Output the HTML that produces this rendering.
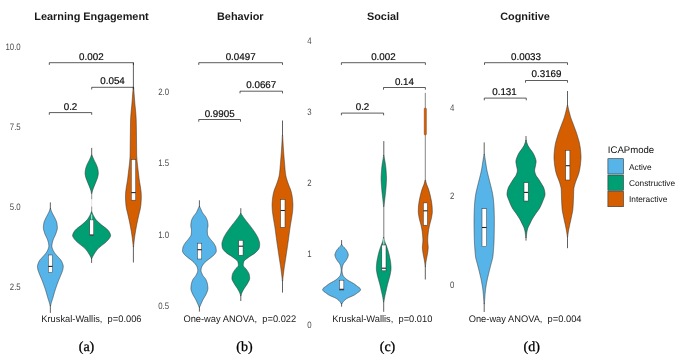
<!DOCTYPE html>
<html><head><meta charset="utf-8"><title>ICAP violin plots</title>
<style>
html,body{margin:0;padding:0;background:#ffffff;}
body{width:685px;height:359px;overflow:hidden;font-family:"Liberation Sans",sans-serif;}
svg{display:block;will-change:transform}
svg text{text-rendering:geometricPrecision}
</style></head><body>
<svg width="685" height="359" viewBox="0 0 685 359">
<rect x="0" y="0" width="685" height="359" fill="#ffffff"/>
<text x="91.5" y="20" font-size="10.9" text-anchor="middle" fill="#1a1a1a" font-weight="bold" style="font-family:&quot;Liberation Sans&quot;,sans-serif" xml:space="preserve">Learning Engagement</text>
<text x="240.3" y="20" font-size="10.9" text-anchor="middle" fill="#1a1a1a" font-weight="bold" style="font-family:&quot;Liberation Sans&quot;,sans-serif" xml:space="preserve">Behavior</text>
<text x="383" y="20" font-size="10.9" text-anchor="middle" fill="#1a1a1a" font-weight="bold" style="font-family:&quot;Liberation Sans&quot;,sans-serif" xml:space="preserve">Social</text>
<text x="525" y="20" font-size="10.9" text-anchor="middle" fill="#1a1a1a" font-weight="bold" style="font-family:&quot;Liberation Sans&quot;,sans-serif" xml:space="preserve">Cognitive</text>
<text transform="translate(20.7,49.7) scale(0.84,1)" x="0" y="0" font-size="9.3" text-anchor="end" fill="#4d4d4d" style="font-family:&quot;Liberation Sans&quot;,sans-serif">10.0</text>
<text transform="translate(20.7,129.6) scale(0.84,1)" x="0" y="0" font-size="9.3" text-anchor="end" fill="#4d4d4d" style="font-family:&quot;Liberation Sans&quot;,sans-serif">7.5</text>
<text transform="translate(20.7,209.5) scale(0.84,1)" x="0" y="0" font-size="9.3" text-anchor="end" fill="#4d4d4d" style="font-family:&quot;Liberation Sans&quot;,sans-serif">5.0</text>
<text transform="translate(20.7,289.5) scale(0.84,1)" x="0" y="0" font-size="9.3" text-anchor="end" fill="#4d4d4d" style="font-family:&quot;Liberation Sans&quot;,sans-serif">2.5</text>
<text transform="translate(169.1,95.2) scale(0.84,1)" x="0" y="0" font-size="9.3" text-anchor="end" fill="#4d4d4d" style="font-family:&quot;Liberation Sans&quot;,sans-serif">2.0</text>
<text transform="translate(169.1,166.4) scale(0.84,1)" x="0" y="0" font-size="9.3" text-anchor="end" fill="#4d4d4d" style="font-family:&quot;Liberation Sans&quot;,sans-serif">1.5</text>
<text transform="translate(169.1,237.7) scale(0.84,1)" x="0" y="0" font-size="9.3" text-anchor="end" fill="#4d4d4d" style="font-family:&quot;Liberation Sans&quot;,sans-serif">1.0</text>
<text transform="translate(169.1,308.9) scale(0.84,1)" x="0" y="0" font-size="9.3" text-anchor="end" fill="#4d4d4d" style="font-family:&quot;Liberation Sans&quot;,sans-serif">0.5</text>
<text transform="translate(311.6,43.5) scale(0.84,1)" x="0" y="0" font-size="9.3" text-anchor="end" fill="#4d4d4d" style="font-family:&quot;Liberation Sans&quot;,sans-serif">4</text>
<text transform="translate(311.6,114.6) scale(0.84,1)" x="0" y="0" font-size="9.3" text-anchor="end" fill="#4d4d4d" style="font-family:&quot;Liberation Sans&quot;,sans-serif">3</text>
<text transform="translate(311.6,185.8) scale(0.84,1)" x="0" y="0" font-size="9.3" text-anchor="end" fill="#4d4d4d" style="font-family:&quot;Liberation Sans&quot;,sans-serif">2</text>
<text transform="translate(311.6,256.9) scale(0.84,1)" x="0" y="0" font-size="9.3" text-anchor="end" fill="#4d4d4d" style="font-family:&quot;Liberation Sans&quot;,sans-serif">1</text>
<text transform="translate(311.6,328) scale(0.84,1)" x="0" y="0" font-size="9.3" text-anchor="end" fill="#4d4d4d" style="font-family:&quot;Liberation Sans&quot;,sans-serif">0</text>
<text transform="translate(454.3,110.8) scale(0.84,1)" x="0" y="0" font-size="9.3" text-anchor="end" fill="#4d4d4d" style="font-family:&quot;Liberation Sans&quot;,sans-serif">4</text>
<text transform="translate(454.3,199.3) scale(0.84,1)" x="0" y="0" font-size="9.3" text-anchor="end" fill="#4d4d4d" style="font-family:&quot;Liberation Sans&quot;,sans-serif">2</text>
<text transform="translate(454.3,287.8) scale(0.84,1)" x="0" y="0" font-size="9.3" text-anchor="end" fill="#4d4d4d" style="font-family:&quot;Liberation Sans&quot;,sans-serif">0</text>
<path d="M50.55,208.50 L50.84,209.50 L51.17,210.50 L51.55,211.50 L51.97,212.50 L52.47,213.50 L53.01,214.50 L53.55,215.50 L54.08,216.50 L54.61,217.50 L55.12,218.50 L55.58,219.50 L56.04,220.50 L56.44,221.50 L56.73,222.50 L56.91,223.50 L57.07,224.50 L57.21,225.50 L57.30,226.50 L57.35,227.50 L57.31,228.50 L57.15,229.50 L56.89,230.50 L56.57,231.50 L56.24,232.50 L55.92,233.50 L55.53,234.50 L55.09,235.50 L54.61,236.50 L54.12,237.50 L53.66,238.50 L53.26,239.50 L52.92,240.50 L52.62,241.50 L52.35,242.50 L52.15,243.50 L52.00,244.50 L51.88,245.50 L51.86,246.50 L52.06,247.50 L52.38,248.50 L52.73,249.50 L53.18,250.50 L53.71,251.50 L54.31,252.50 L55.02,253.50 L55.85,254.50 L56.75,255.50 L57.67,256.50 L58.56,257.50 L59.47,258.50 L60.40,259.50 L61.15,260.50 L61.71,261.50 L62.18,262.50 L62.55,263.50 L62.88,264.50 L63.15,265.50 L63.25,266.50 L63.18,267.50 L63.03,268.50 L62.85,269.50 L62.59,270.50 L62.23,271.50 L61.85,272.50 L61.48,273.50 L61.08,274.50 L60.66,275.50 L60.24,276.50 L59.81,277.50 L59.38,278.50 L58.97,279.50 L58.56,280.50 L58.17,281.50 L57.80,282.50 L57.43,283.50 L57.07,284.50 L56.71,285.50 L56.36,286.50 L56.01,287.50 L55.67,288.50 L55.34,289.50 L55.02,290.50 L54.71,291.50 L54.41,292.50 L54.12,293.50 L53.83,294.50 L53.55,295.50 L53.26,296.50 L52.97,297.50 L52.67,298.50 L52.36,299.50 L52.03,300.50 L51.70,301.50 L51.39,302.50 L51.12,303.50 L50.87,304.50 L50.64,305.50 L50.55,305.90 L50.15,305.90 L50.06,305.50 L49.83,304.50 L49.58,303.50 L49.31,302.50 L49.00,301.50 L48.67,300.50 L48.34,299.50 L48.03,298.50 L47.73,297.50 L47.44,296.50 L47.15,295.50 L46.87,294.50 L46.58,293.50 L46.29,292.50 L45.99,291.50 L45.68,290.50 L45.36,289.50 L45.03,288.50 L44.69,287.50 L44.34,286.50 L43.99,285.50 L43.63,284.50 L43.27,283.50 L42.90,282.50 L42.53,281.50 L42.14,280.50 L41.73,279.50 L41.32,278.50 L40.89,277.50 L40.46,276.50 L40.04,275.50 L39.62,274.50 L39.22,273.50 L38.85,272.50 L38.47,271.50 L38.11,270.50 L37.85,269.50 L37.67,268.50 L37.52,267.50 L37.45,266.50 L37.55,265.50 L37.82,264.50 L38.15,263.50 L38.52,262.50 L38.99,261.50 L39.55,260.50 L40.30,259.50 L41.23,258.50 L42.14,257.50 L43.03,256.50 L43.95,255.50 L44.85,254.50 L45.68,253.50 L46.39,252.50 L46.99,251.50 L47.52,250.50 L47.97,249.50 L48.32,248.50 L48.64,247.50 L48.84,246.50 L48.82,245.50 L48.70,244.50 L48.55,243.50 L48.35,242.50 L48.08,241.50 L47.78,240.50 L47.44,239.50 L47.04,238.50 L46.58,237.50 L46.09,236.50 L45.61,235.50 L45.17,234.50 L44.78,233.50 L44.46,232.50 L44.13,231.50 L43.81,230.50 L43.55,229.50 L43.39,228.50 L43.35,227.50 L43.40,226.50 L43.49,225.50 L43.63,224.50 L43.79,223.50 L43.97,222.50 L44.26,221.50 L44.66,220.50 L45.12,219.50 L45.58,218.50 L46.09,217.50 L46.62,216.50 L47.15,215.50 L47.69,214.50 L48.23,213.50 L48.73,212.50 L49.15,211.50 L49.53,210.50 L49.86,209.50 L50.15,208.50Z" fill="#56B4E9" stroke="#333333" stroke-width="0.55" stroke-linejoin="round"/>
<line x1="50.35" y1="202.4" x2="50.35" y2="209.0" stroke="#2b2b2b" stroke-width="0.75"/>
<line x1="50.35" y1="305.4" x2="50.35" y2="312.9" stroke="#2b2b2b" stroke-width="0.75"/>
<rect x="48.30" y="255" width="4.2" height="17.50" fill="#ffffff" stroke="#333333" stroke-width="0.5"/>
<line x1="48.30" y1="266.4" x2="52.50" y2="266.4" stroke="#222" stroke-width="1.1"/>
<path d="M91.90,154.90 L92.29,155.90 L92.69,156.90 L93.10,157.90 L93.53,158.90 L93.97,159.90 L94.46,160.90 L94.97,161.90 L95.49,162.90 L95.99,163.90 L96.45,164.90 L96.86,165.90 L97.20,166.90 L97.52,167.90 L97.79,168.90 L97.99,169.90 L98.12,170.90 L98.23,171.90 L98.29,172.90 L98.28,173.90 L98.15,174.90 L97.95,175.90 L97.72,176.90 L97.45,177.90 L97.09,178.90 L96.69,179.90 L96.31,180.90 L95.92,181.90 L95.52,182.90 L95.10,183.90 L94.69,184.90 L94.29,185.90 L93.89,186.90 L93.51,187.90 L93.10,188.90 L92.73,189.90 L92.42,190.90 L92.20,191.90 L92.03,192.90 L91.95,193.50 L91.45,193.50 L91.37,192.90 L91.20,191.90 L90.98,190.90 L90.67,189.90 L90.30,188.90 L89.89,187.90 L89.51,186.90 L89.11,185.90 L88.71,184.90 L88.30,183.90 L87.88,182.90 L87.48,181.90 L87.09,180.90 L86.71,179.90 L86.31,178.90 L85.95,177.90 L85.68,176.90 L85.45,175.90 L85.25,174.90 L85.12,173.90 L85.11,172.90 L85.17,171.90 L85.28,170.90 L85.41,169.90 L85.61,168.90 L85.88,167.90 L86.20,166.90 L86.54,165.90 L86.95,164.90 L87.41,163.90 L87.91,162.90 L88.43,161.90 L88.94,160.90 L89.43,159.90 L89.87,158.90 L90.30,157.90 L90.71,156.90 L91.11,155.90 L91.50,154.90Z" fill="#009E73" stroke="#333333" stroke-width="0.55" stroke-linejoin="round"/>
<line x1="91.7" y1="147.9" x2="91.7" y2="155.4" stroke="#2b2b2b" stroke-width="0.75"/>
<line x1="91.7" y1="193.2" x2="91.7" y2="199.3" stroke="#444" stroke-width="0.6"/>
<line x1="91.7" y1="199.3" x2="91.7" y2="206.5" stroke="#dcdcdc" stroke-width="0.8"/>
<line x1="91.7" y1="206.5" x2="91.7" y2="212.2" stroke="#444" stroke-width="0.6"/>
<path d="M91.85,211.80 L92.15,212.80 L92.52,213.80 L92.97,214.80 L93.51,215.80 L94.07,216.80 L94.62,217.80 L95.26,218.80 L96.04,219.80 L96.97,220.80 L98.00,221.80 L99.11,222.80 L100.24,223.80 L101.39,224.80 L102.67,225.80 L104.03,226.80 L105.36,227.80 L106.58,228.80 L107.58,229.80 L108.47,230.80 L109.22,231.80 L109.73,232.80 L110.17,233.80 L110.49,234.80 L110.60,235.80 L110.29,236.80 L109.67,237.80 L109.00,238.80 L108.18,239.80 L107.22,240.80 L106.20,241.80 L105.12,242.80 L103.90,243.80 L102.61,244.80 L101.31,245.80 L100.05,246.80 L98.89,247.80 L97.89,248.80 L97.04,249.80 L96.27,250.80 L95.56,251.80 L94.90,252.80 L94.28,253.80 L93.69,254.80 L93.13,255.80 L92.60,256.80 L92.12,257.80 L91.80,258.50 L91.40,258.50 L91.08,257.80 L90.60,256.80 L90.07,255.80 L89.51,254.80 L88.92,253.80 L88.30,252.80 L87.64,251.80 L86.93,250.80 L86.16,249.80 L85.31,248.80 L84.31,247.80 L83.15,246.80 L81.89,245.80 L80.59,244.80 L79.30,243.80 L78.08,242.80 L77.00,241.80 L75.98,240.80 L75.02,239.80 L74.20,238.80 L73.53,237.80 L72.91,236.80 L72.60,235.80 L72.71,234.80 L73.03,233.80 L73.47,232.80 L73.98,231.80 L74.73,230.80 L75.62,229.80 L76.62,228.80 L77.84,227.80 L79.17,226.80 L80.53,225.80 L81.81,224.80 L82.96,223.80 L84.09,222.80 L85.20,221.80 L86.23,220.80 L87.16,219.80 L87.94,218.80 L88.58,217.80 L89.13,216.80 L89.69,215.80 L90.23,214.80 L90.68,213.80 L91.05,212.80 L91.35,211.80Z" fill="#009E73" stroke="#333333" stroke-width="0.55" stroke-linejoin="round"/>
<line x1="91.6" y1="258.0" x2="91.6" y2="262.9" stroke="#2b2b2b" stroke-width="0.75"/>
<line x1="91.7" y1="214.5" x2="91.7" y2="220" stroke="#ffffff" stroke-width="0.8"/>
<rect x="89.75" y="219.9" width="4.0" height="15.80" fill="#ffffff" stroke="#333333" stroke-width="0.5"/>
<line x1="89.75" y1="235.0" x2="93.75" y2="235.0" stroke="#222" stroke-width="1.1"/>
<path d="M133.60,87.20 L133.68,88.20 L133.75,89.20 L133.83,90.20 L133.91,91.20 L133.98,92.20 L134.06,93.20 L134.14,94.20 L134.22,95.20 L134.29,96.20 L134.37,97.20 L134.44,98.20 L134.52,99.20 L134.60,100.20 L134.68,101.20 L134.76,102.20 L134.84,103.20 L134.93,104.20 L135.02,105.20 L135.12,106.20 L135.23,107.20 L135.34,108.20 L135.44,109.20 L135.54,110.20 L135.63,111.20 L135.72,112.20 L135.79,113.20 L135.87,114.20 L135.94,115.20 L136.01,116.20 L136.07,117.20 L136.13,118.20 L136.17,119.20 L136.21,120.20 L136.23,121.20 L136.26,122.20 L136.28,123.20 L136.30,124.20 L136.32,125.20 L136.34,126.20 L136.36,127.20 L136.37,128.20 L136.39,129.20 L136.40,130.20 L136.42,131.20 L136.43,132.20 L136.44,133.20 L136.46,134.20 L136.47,135.20 L136.48,136.20 L136.50,137.20 L136.51,138.20 L136.52,139.20 L136.53,140.20 L136.54,141.20 L136.55,142.20 L136.56,143.20 L136.57,144.20 L136.57,145.20 L136.58,146.20 L136.59,147.20 L136.60,148.20 L136.61,149.20 L136.62,150.20 L136.63,151.20 L136.65,152.20 L136.66,153.20 L136.68,154.20 L136.70,155.20 L136.74,156.20 L136.80,157.20 L136.87,158.20 L136.94,159.20 L137.02,160.20 L137.10,161.20 L137.19,162.20 L137.29,163.20 L137.40,164.20 L137.51,165.20 L137.62,166.20 L137.74,167.20 L137.86,168.20 L137.98,169.20 L138.10,170.20 L138.23,171.20 L138.35,172.20 L138.47,173.20 L138.59,174.20 L138.71,175.20 L138.82,176.20 L138.94,177.20 L139.06,178.20 L139.19,179.20 L139.33,180.20 L139.48,181.20 L139.64,182.20 L139.81,183.20 L139.98,184.20 L140.15,185.20 L140.32,186.20 L140.48,187.20 L140.62,188.20 L140.75,189.20 L140.88,190.20 L141.01,191.20 L141.11,192.20 L141.19,193.20 L141.23,194.20 L141.26,195.20 L141.29,196.20 L141.30,197.20 L141.29,198.20 L141.26,199.20 L141.21,200.20 L141.15,201.20 L141.09,202.20 L141.02,203.20 L140.93,204.20 L140.83,205.20 L140.71,206.20 L140.57,207.20 L140.39,208.20 L140.19,209.20 L139.96,210.20 L139.72,211.20 L139.47,212.20 L139.22,213.20 L138.98,214.20 L138.76,215.20 L138.54,216.20 L138.32,217.20 L138.09,218.20 L137.87,219.20 L137.65,220.20 L137.44,221.20 L137.23,222.20 L137.02,223.20 L136.82,224.20 L136.63,225.20 L136.43,226.20 L136.24,227.20 L136.06,228.20 L135.88,229.20 L135.70,230.20 L135.53,231.20 L135.36,232.20 L135.20,233.20 L135.05,234.20 L134.90,235.20 L134.75,236.20 L134.61,237.20 L134.47,238.20 L134.35,239.20 L134.23,240.20 L134.12,241.20 L134.01,242.20 L133.90,243.20 L133.80,244.20 L133.71,245.20 L133.62,246.20 L133.60,246.50 L133.20,246.50 L133.18,246.20 L133.09,245.20 L133.00,244.20 L132.90,243.20 L132.79,242.20 L132.68,241.20 L132.57,240.20 L132.45,239.20 L132.33,238.20 L132.19,237.20 L132.05,236.20 L131.90,235.20 L131.75,234.20 L131.60,233.20 L131.44,232.20 L131.27,231.20 L131.10,230.20 L130.92,229.20 L130.74,228.20 L130.56,227.20 L130.37,226.20 L130.17,225.20 L129.98,224.20 L129.78,223.20 L129.57,222.20 L129.36,221.20 L129.15,220.20 L128.93,219.20 L128.71,218.20 L128.48,217.20 L128.26,216.20 L128.04,215.20 L127.82,214.20 L127.58,213.20 L127.33,212.20 L127.08,211.20 L126.84,210.20 L126.61,209.20 L126.41,208.20 L126.23,207.20 L126.09,206.20 L125.97,205.20 L125.87,204.20 L125.78,203.20 L125.71,202.20 L125.65,201.20 L125.59,200.20 L125.54,199.20 L125.51,198.20 L125.50,197.20 L125.51,196.20 L125.54,195.20 L125.57,194.20 L125.61,193.20 L125.69,192.20 L125.79,191.20 L125.92,190.20 L126.05,189.20 L126.18,188.20 L126.32,187.20 L126.48,186.20 L126.65,185.20 L126.82,184.20 L126.99,183.20 L127.16,182.20 L127.32,181.20 L127.47,180.20 L127.61,179.20 L127.74,178.20 L127.86,177.20 L127.98,176.20 L128.09,175.20 L128.21,174.20 L128.33,173.20 L128.45,172.20 L128.57,171.20 L128.70,170.20 L128.82,169.20 L128.94,168.20 L129.06,167.20 L129.18,166.20 L129.29,165.20 L129.40,164.20 L129.51,163.20 L129.61,162.20 L129.70,161.20 L129.78,160.20 L129.86,159.20 L129.93,158.20 L130.00,157.20 L130.06,156.20 L130.10,155.20 L130.12,154.20 L130.14,153.20 L130.15,152.20 L130.17,151.20 L130.18,150.20 L130.19,149.20 L130.20,148.20 L130.21,147.20 L130.22,146.20 L130.23,145.20 L130.23,144.20 L130.24,143.20 L130.25,142.20 L130.26,141.20 L130.27,140.20 L130.28,139.20 L130.29,138.20 L130.30,137.20 L130.32,136.20 L130.33,135.20 L130.34,134.20 L130.36,133.20 L130.37,132.20 L130.38,131.20 L130.40,130.20 L130.41,129.20 L130.43,128.20 L130.44,127.20 L130.46,126.20 L130.48,125.20 L130.50,124.20 L130.52,123.20 L130.54,122.20 L130.57,121.20 L130.59,120.20 L130.63,119.20 L130.67,118.20 L130.73,117.20 L130.79,116.20 L130.86,115.20 L130.93,114.20 L131.01,113.20 L131.08,112.20 L131.17,111.20 L131.26,110.20 L131.36,109.20 L131.46,108.20 L131.57,107.20 L131.68,106.20 L131.78,105.20 L131.87,104.20 L131.96,103.20 L132.04,102.20 L132.12,101.20 L132.20,100.20 L132.28,99.20 L132.36,98.20 L132.43,97.20 L132.51,96.20 L132.58,95.20 L132.66,94.20 L132.74,93.20 L132.82,92.20 L132.89,91.20 L132.97,90.20 L133.05,89.20 L133.12,88.20 L133.20,87.20Z" fill="#D55E00" stroke="#333333" stroke-width="0.55" stroke-linejoin="round"/>
<line x1="133.4" y1="62.6" x2="133.4" y2="87.7" stroke="#2b2b2b" stroke-width="0.75"/>
<line x1="133.4" y1="246.0" x2="133.4" y2="262.5" stroke="#2b2b2b" stroke-width="0.75"/>
<rect x="131.25" y="159.5" width="4.5" height="40.70" fill="#ffffff" stroke="#333333" stroke-width="0.5"/>
<line x1="131.25" y1="192.6" x2="135.75" y2="192.6" stroke="#222" stroke-width="1.1"/>
<path d="M49.3,64.9 V62.7 H133.4 V64.9" fill="none" stroke="#151515" stroke-width="0.7"/><text x="91.35" y="59.7" font-size="9.8" text-anchor="middle" fill="#0a0a0a" stroke="#0a0a0a" stroke-width="0.18" font-weight="normal" style="font-family:&quot;Liberation Sans&quot;,sans-serif" xml:space="preserve">0.002</text>
<path d="M91.7,89.5 V87.3 H133.4 V89.5" fill="none" stroke="#151515" stroke-width="0.7"/><text x="112.55000000000001" y="84.3" font-size="9.8" text-anchor="middle" fill="#0a0a0a" stroke="#0a0a0a" stroke-width="0.18" font-weight="normal" style="font-family:&quot;Liberation Sans&quot;,sans-serif" xml:space="preserve">0.054</text>
<path d="M49.3,114.8 V112.6 H91.7 V114.8" fill="none" stroke="#151515" stroke-width="0.7"/><text x="70.5" y="109.6" font-size="9.8" text-anchor="middle" fill="#0a0a0a" stroke="#0a0a0a" stroke-width="0.18" font-weight="normal" style="font-family:&quot;Liberation Sans&quot;,sans-serif" xml:space="preserve">0.2</text>
<text transform="translate(91.4,321.6) scale(0.974,1)" x="0" y="0" font-size="9.55" text-anchor="middle" fill="#1a1a1a" font-weight="normal" style="font-family:&quot;Liberation Sans&quot;,sans-serif" xml:space="preserve">Kruskal-Wallis,  p=0.006</text>
<text x="86.5" y="350.5" font-size="14" text-anchor="middle" fill="#000" stroke="#000" stroke-width="0.3" font-weight="normal" style="font-family:&quot;Liberation Serif&quot;,serif" xml:space="preserve">(a)</text>
<path d="M199.60,206.40 L200.06,207.40 L200.52,208.40 L200.98,209.40 L201.41,210.40 L201.85,211.40 L202.34,212.40 L202.99,213.40 L203.78,214.40 L204.60,215.40 L205.34,216.40 L205.91,217.40 L206.43,218.40 L206.90,219.40 L207.27,220.40 L207.52,221.40 L207.69,222.40 L207.84,223.40 L207.94,224.40 L208.00,225.40 L207.95,226.40 L207.76,227.40 L207.52,228.40 L207.34,229.40 L207.30,230.40 L207.33,231.40 L207.39,232.40 L207.48,233.40 L207.59,234.40 L207.85,235.40 L208.39,236.40 L209.09,237.40 L209.84,238.40 L210.57,239.40 L211.41,240.40 L212.30,241.40 L213.14,242.40 L213.82,243.40 L214.45,244.40 L215.04,245.40 L215.53,246.40 L215.86,247.40 L216.04,248.40 L216.19,249.40 L216.28,250.40 L216.26,251.40 L215.86,252.40 L215.22,253.40 L214.49,254.40 L213.48,255.40 L212.28,256.40 L211.08,257.40 L209.83,258.40 L208.48,259.40 L207.14,260.40 L205.90,261.40 L204.89,262.40 L204.04,263.40 L203.24,264.40 L202.52,265.40 L201.93,266.40 L201.51,267.40 L201.26,268.40 L201.08,269.40 L201.00,270.40 L201.12,271.40 L201.42,272.40 L201.85,273.40 L202.31,274.40 L202.82,275.40 L203.53,276.40 L204.35,277.40 L205.17,278.40 L205.85,279.40 L206.31,280.40 L206.69,281.40 L207.02,282.40 L207.30,283.40 L207.51,284.40 L207.65,285.40 L207.77,286.40 L207.86,287.40 L207.90,288.40 L207.82,289.40 L207.59,290.40 L207.25,291.40 L206.84,292.40 L206.40,293.40 L205.98,294.40 L205.46,295.40 L204.88,296.40 L204.26,297.40 L203.65,298.40 L203.10,299.40 L202.60,300.40 L202.13,301.40 L201.67,302.40 L201.22,303.40 L200.79,304.40 L200.36,305.40 L199.95,306.40 L199.60,307.30 L199.20,307.30 L198.85,306.40 L198.44,305.40 L198.01,304.40 L197.58,303.40 L197.13,302.40 L196.67,301.40 L196.20,300.40 L195.70,299.40 L195.15,298.40 L194.54,297.40 L193.92,296.40 L193.34,295.40 L192.82,294.40 L192.40,293.40 L191.96,292.40 L191.55,291.40 L191.21,290.40 L190.98,289.40 L190.90,288.40 L190.94,287.40 L191.03,286.40 L191.15,285.40 L191.29,284.40 L191.50,283.40 L191.78,282.40 L192.11,281.40 L192.49,280.40 L192.95,279.40 L193.63,278.40 L194.45,277.40 L195.27,276.40 L195.98,275.40 L196.49,274.40 L196.95,273.40 L197.38,272.40 L197.68,271.40 L197.80,270.40 L197.72,269.40 L197.54,268.40 L197.29,267.40 L196.87,266.40 L196.28,265.40 L195.56,264.40 L194.76,263.40 L193.91,262.40 L192.90,261.40 L191.66,260.40 L190.32,259.40 L188.97,258.40 L187.72,257.40 L186.52,256.40 L185.32,255.40 L184.31,254.40 L183.58,253.40 L182.94,252.40 L182.54,251.40 L182.52,250.40 L182.61,249.40 L182.76,248.40 L182.94,247.40 L183.27,246.40 L183.76,245.40 L184.35,244.40 L184.98,243.40 L185.66,242.40 L186.50,241.40 L187.39,240.40 L188.23,239.40 L188.96,238.40 L189.71,237.40 L190.41,236.40 L190.95,235.40 L191.21,234.40 L191.32,233.40 L191.41,232.40 L191.47,231.40 L191.50,230.40 L191.46,229.40 L191.28,228.40 L191.04,227.40 L190.85,226.40 L190.80,225.40 L190.86,224.40 L190.96,223.40 L191.11,222.40 L191.28,221.40 L191.53,220.40 L191.90,219.40 L192.37,218.40 L192.89,217.40 L193.46,216.40 L194.20,215.40 L195.02,214.40 L195.81,213.40 L196.46,212.40 L196.95,211.40 L197.39,210.40 L197.82,209.40 L198.28,208.40 L198.74,207.40 L199.20,206.40Z" fill="#56B4E9" stroke="#333333" stroke-width="0.55" stroke-linejoin="round"/>
<line x1="199.4" y1="200.3" x2="199.4" y2="206.9" stroke="#2b2b2b" stroke-width="0.75"/>
<line x1="199.4" y1="306.8" x2="199.4" y2="311.6" stroke="#2b2b2b" stroke-width="0.75"/>
<rect x="197.45" y="243.2" width="4.3" height="15.80" fill="#ffffff" stroke="#333333" stroke-width="0.5"/>
<line x1="197.45" y1="249.7" x2="201.75" y2="249.7" stroke="#222" stroke-width="1.1"/>
<path d="M241.00,213.40 L241.60,214.40 L242.24,215.40 L242.89,216.40 L243.58,217.40 L244.30,218.40 L245.04,219.40 L245.81,220.40 L246.58,221.40 L247.36,222.40 L248.17,223.40 L248.98,224.40 L249.77,225.40 L250.54,226.40 L251.30,227.40 L252.04,228.40 L252.77,229.40 L253.48,230.40 L254.19,231.40 L254.88,232.40 L255.53,233.40 L256.14,234.40 L256.71,235.40 L257.27,236.40 L257.78,237.40 L258.22,238.40 L258.57,239.40 L258.93,240.40 L259.25,241.40 L259.51,242.40 L259.67,243.40 L259.69,244.40 L259.63,245.40 L259.50,246.40 L259.34,247.40 L259.04,248.40 L258.45,249.40 L257.64,250.40 L256.70,251.40 L255.70,252.40 L254.54,253.40 L253.06,254.40 L251.44,255.40 L249.86,256.40 L248.47,257.40 L247.11,258.40 L245.74,259.40 L244.59,260.40 L243.87,261.40 L243.59,262.40 L243.37,263.40 L243.24,264.40 L243.22,265.40 L243.68,266.40 L244.56,267.40 L245.58,268.40 L246.43,269.40 L247.08,270.40 L247.74,271.40 L248.34,272.40 L248.85,273.40 L249.21,274.40 L249.41,275.40 L249.56,276.40 L249.67,277.40 L249.70,278.40 L249.54,279.40 L249.17,280.40 L248.65,281.40 L248.08,282.40 L247.51,283.40 L246.94,284.40 L246.29,285.40 L245.60,286.40 L244.90,287.40 L244.24,288.40 L243.65,289.40 L243.06,290.40 L242.51,291.40 L242.04,292.40 L241.66,293.40 L241.35,294.40 L241.10,295.40 L241.00,295.90 L240.60,295.90 L240.50,295.40 L240.25,294.40 L239.94,293.40 L239.56,292.40 L239.09,291.40 L238.54,290.40 L237.95,289.40 L237.36,288.40 L236.70,287.40 L236.00,286.40 L235.31,285.40 L234.66,284.40 L234.09,283.40 L233.52,282.40 L232.95,281.40 L232.43,280.40 L232.06,279.40 L231.90,278.40 L231.93,277.40 L232.04,276.40 L232.19,275.40 L232.39,274.40 L232.75,273.40 L233.26,272.40 L233.86,271.40 L234.52,270.40 L235.17,269.40 L236.02,268.40 L237.04,267.40 L237.92,266.40 L238.38,265.40 L238.36,264.40 L238.23,263.40 L238.01,262.40 L237.73,261.40 L237.01,260.40 L235.86,259.40 L234.49,258.40 L233.13,257.40 L231.74,256.40 L230.16,255.40 L228.54,254.40 L227.06,253.40 L225.90,252.40 L224.90,251.40 L223.96,250.40 L223.15,249.40 L222.56,248.40 L222.26,247.40 L222.10,246.40 L221.97,245.40 L221.91,244.40 L221.93,243.40 L222.09,242.40 L222.35,241.40 L222.67,240.40 L223.03,239.40 L223.38,238.40 L223.82,237.40 L224.33,236.40 L224.89,235.40 L225.46,234.40 L226.07,233.40 L226.72,232.40 L227.41,231.40 L228.12,230.40 L228.83,229.40 L229.56,228.40 L230.30,227.40 L231.06,226.40 L231.83,225.40 L232.62,224.40 L233.43,223.40 L234.24,222.40 L235.02,221.40 L235.79,220.40 L236.56,219.40 L237.30,218.40 L238.02,217.40 L238.71,216.40 L239.36,215.40 L240.00,214.40 L240.60,213.40Z" fill="#009E73" stroke="#333333" stroke-width="0.55" stroke-linejoin="round"/>
<line x1="240.8" y1="208.2" x2="240.8" y2="213.9" stroke="#2b2b2b" stroke-width="0.75"/>
<line x1="240.8" y1="295.4" x2="240.8" y2="301" stroke="#2b2b2b" stroke-width="0.75"/>
<rect x="238.75" y="240.3" width="4.3" height="14.90" fill="#ffffff" stroke="#333333" stroke-width="0.5"/>
<line x1="238.75" y1="246.2" x2="243.05" y2="246.2" stroke="#222" stroke-width="1.1"/>
<path d="M282.70,135.60 L282.74,136.60 L282.79,137.60 L282.84,138.60 L282.89,139.60 L282.94,140.60 L282.99,141.60 L283.05,142.60 L283.11,143.60 L283.16,144.60 L283.22,145.60 L283.28,146.60 L283.35,147.60 L283.41,148.60 L283.47,149.60 L283.54,150.60 L283.61,151.60 L283.68,152.60 L283.76,153.60 L283.83,154.60 L283.91,155.60 L283.99,156.60 L284.08,157.60 L284.16,158.60 L284.24,159.60 L284.33,160.60 L284.41,161.60 L284.50,162.60 L284.58,163.60 L284.67,164.60 L284.75,165.60 L284.83,166.60 L284.90,167.60 L284.98,168.60 L285.07,169.60 L285.16,170.60 L285.26,171.60 L285.37,172.60 L285.50,173.60 L285.65,174.60 L285.82,175.60 L286.03,176.60 L286.27,177.60 L286.55,178.60 L286.86,179.60 L287.17,180.60 L287.49,181.60 L287.84,182.60 L288.20,183.60 L288.57,184.60 L288.95,185.60 L289.33,186.60 L289.74,187.60 L290.16,188.60 L290.54,189.60 L290.86,190.60 L291.14,191.60 L291.40,192.60 L291.64,193.60 L291.85,194.60 L292.03,195.60 L292.19,196.60 L292.34,197.60 L292.47,198.60 L292.58,199.60 L292.67,200.60 L292.74,201.60 L292.81,202.60 L292.87,203.60 L292.90,204.60 L292.90,205.60 L292.87,206.60 L292.83,207.60 L292.78,208.60 L292.72,209.60 L292.66,210.60 L292.56,211.60 L292.43,212.60 L292.30,213.60 L292.15,214.60 L292.02,215.60 L291.87,216.60 L291.72,217.60 L291.55,218.60 L291.39,219.60 L291.21,220.60 L291.04,221.60 L290.87,222.60 L290.70,223.60 L290.53,224.60 L290.36,225.60 L290.21,226.60 L290.06,227.60 L289.91,228.60 L289.77,229.60 L289.63,230.60 L289.50,231.60 L289.36,232.60 L289.23,233.60 L289.10,234.60 L288.97,235.60 L288.84,236.60 L288.70,237.60 L288.57,238.60 L288.44,239.60 L288.30,240.60 L288.16,241.60 L288.02,242.60 L287.87,243.60 L287.73,244.60 L287.58,245.60 L287.44,246.60 L287.29,247.60 L287.14,248.60 L287.00,249.60 L286.85,250.60 L286.70,251.60 L286.55,252.60 L286.40,253.60 L286.25,254.60 L286.10,255.60 L285.95,256.60 L285.80,257.60 L285.65,258.60 L285.49,259.60 L285.34,260.60 L285.18,261.60 L285.02,262.60 L284.86,263.60 L284.71,264.60 L284.55,265.60 L284.40,266.60 L284.26,267.60 L284.12,268.60 L283.98,269.60 L283.85,270.60 L283.72,271.60 L283.60,272.60 L283.47,273.60 L283.35,274.60 L283.23,275.60 L283.10,276.60 L282.99,277.60 L282.89,278.60 L282.81,279.60 L282.73,280.60 L282.70,281.00 L282.30,281.00 L282.27,280.60 L282.19,279.60 L282.11,278.60 L282.01,277.60 L281.90,276.60 L281.77,275.60 L281.65,274.60 L281.53,273.60 L281.40,272.60 L281.28,271.60 L281.15,270.60 L281.02,269.60 L280.88,268.60 L280.74,267.60 L280.60,266.60 L280.45,265.60 L280.29,264.60 L280.14,263.60 L279.98,262.60 L279.82,261.60 L279.66,260.60 L279.51,259.60 L279.35,258.60 L279.20,257.60 L279.05,256.60 L278.90,255.60 L278.75,254.60 L278.60,253.60 L278.45,252.60 L278.30,251.60 L278.15,250.60 L278.00,249.60 L277.86,248.60 L277.71,247.60 L277.56,246.60 L277.42,245.60 L277.27,244.60 L277.13,243.60 L276.98,242.60 L276.84,241.60 L276.70,240.60 L276.56,239.60 L276.43,238.60 L276.30,237.60 L276.16,236.60 L276.03,235.60 L275.90,234.60 L275.77,233.60 L275.64,232.60 L275.50,231.60 L275.37,230.60 L275.23,229.60 L275.09,228.60 L274.94,227.60 L274.79,226.60 L274.64,225.60 L274.47,224.60 L274.30,223.60 L274.13,222.60 L273.96,221.60 L273.79,220.60 L273.61,219.60 L273.45,218.60 L273.28,217.60 L273.13,216.60 L272.98,215.60 L272.85,214.60 L272.70,213.60 L272.57,212.60 L272.44,211.60 L272.34,210.60 L272.28,209.60 L272.22,208.60 L272.17,207.60 L272.13,206.60 L272.10,205.60 L272.10,204.60 L272.13,203.60 L272.19,202.60 L272.26,201.60 L272.33,200.60 L272.42,199.60 L272.53,198.60 L272.66,197.60 L272.81,196.60 L272.97,195.60 L273.15,194.60 L273.36,193.60 L273.60,192.60 L273.86,191.60 L274.14,190.60 L274.46,189.60 L274.84,188.60 L275.26,187.60 L275.67,186.60 L276.05,185.60 L276.43,184.60 L276.80,183.60 L277.16,182.60 L277.51,181.60 L277.83,180.60 L278.14,179.60 L278.45,178.60 L278.73,177.60 L278.97,176.60 L279.18,175.60 L279.35,174.60 L279.50,173.60 L279.63,172.60 L279.74,171.60 L279.84,170.60 L279.93,169.60 L280.02,168.60 L280.10,167.60 L280.17,166.60 L280.25,165.60 L280.33,164.60 L280.42,163.60 L280.50,162.60 L280.59,161.60 L280.67,160.60 L280.76,159.60 L280.84,158.60 L280.92,157.60 L281.01,156.60 L281.09,155.60 L281.17,154.60 L281.24,153.60 L281.32,152.60 L281.39,151.60 L281.46,150.60 L281.53,149.60 L281.59,148.60 L281.65,147.60 L281.72,146.60 L281.78,145.60 L281.84,144.60 L281.89,143.60 L281.95,142.60 L282.01,141.60 L282.06,140.60 L282.11,139.60 L282.16,138.60 L282.21,137.60 L282.26,136.60 L282.30,135.60Z" fill="#D55E00" stroke="#333333" stroke-width="0.55" stroke-linejoin="round"/>
<line x1="282.5" y1="120.5" x2="282.5" y2="136.1" stroke="#2b2b2b" stroke-width="0.75"/>
<line x1="282.5" y1="280.5" x2="282.5" y2="292.6" stroke="#2b2b2b" stroke-width="0.75"/>
<rect x="280.60" y="199.5" width="4.4" height="27.80" fill="#ffffff" stroke="#333333" stroke-width="0.5"/>
<line x1="280.60" y1="210.5" x2="285.00" y2="210.5" stroke="#222" stroke-width="1.1"/>
<path d="M198.75,64.9 V62.7 H282.5 V64.9" fill="none" stroke="#151515" stroke-width="0.7"/><text x="240.625" y="59.7" font-size="9.8" text-anchor="middle" fill="#0a0a0a" stroke="#0a0a0a" stroke-width="0.18" font-weight="normal" style="font-family:&quot;Liberation Sans&quot;,sans-serif" xml:space="preserve">0.0497</text>
<path d="M240,93.4 V91.2 H282.5 V93.4" fill="none" stroke="#151515" stroke-width="0.7"/><text x="261.25" y="88.2" font-size="9.8" text-anchor="middle" fill="#0a0a0a" stroke="#0a0a0a" stroke-width="0.18" font-weight="normal" style="font-family:&quot;Liberation Sans&quot;,sans-serif" xml:space="preserve">0.0667</text>
<path d="M198.75,121.7 V119.5 H240.5 V121.7" fill="none" stroke="#151515" stroke-width="0.7"/><text x="219.625" y="116.5" font-size="9.8" text-anchor="middle" fill="#0a0a0a" stroke="#0a0a0a" stroke-width="0.18" font-weight="normal" style="font-family:&quot;Liberation Sans&quot;,sans-serif" xml:space="preserve">0.9905</text>
<text transform="translate(239.8,321.6) scale(0.974,1)" x="0" y="0" font-size="9.55" text-anchor="middle" fill="#1a1a1a" font-weight="normal" style="font-family:&quot;Liberation Sans&quot;,sans-serif" xml:space="preserve">One-way ANOVA,  p=0.022</text>
<text x="244.5" y="350.5" font-size="14" text-anchor="middle" fill="#000" stroke="#000" stroke-width="0.3" font-weight="normal" style="font-family:&quot;Liberation Serif&quot;,serif" xml:space="preserve">(b)</text>
<path d="M341.80,244.50 L342.38,245.50 L343.10,246.50 L344.08,247.50 L345.15,248.50 L345.95,249.50 L346.62,250.50 L347.18,251.50 L347.61,252.50 L348.00,253.50 L348.26,254.50 L348.26,255.50 L348.00,256.50 L347.61,257.50 L347.17,258.50 L346.58,259.50 L345.91,260.50 L345.22,261.50 L344.42,262.50 L343.68,263.50 L343.17,264.50 L342.76,265.50 L342.46,266.50 L342.28,267.50 L342.14,268.50 L342.04,269.50 L342.00,270.50 L342.05,271.50 L342.19,272.50 L342.40,273.50 L342.66,274.50 L343.00,275.50 L343.65,276.50 L344.56,277.50 L345.64,278.50 L346.80,279.50 L348.22,280.50 L349.98,281.50 L351.86,282.50 L353.63,283.50 L355.09,284.50 L356.35,285.50 L357.60,286.50 L359.09,287.50 L360.13,288.50 L360.59,289.50 L360.26,290.50 L359.38,291.50 L357.88,292.50 L356.55,293.50 L355.18,294.50 L353.46,295.50 L351.13,296.50 L348.72,297.50 L346.80,298.50 L345.44,299.50 L344.31,300.50 L343.40,301.50 L342.66,302.50 L342.07,303.50 L341.85,304.00 L341.35,304.00 L341.13,303.50 L340.54,302.50 L339.80,301.50 L338.89,300.50 L337.76,299.50 L336.40,298.50 L334.48,297.50 L332.07,296.50 L329.74,295.50 L328.02,294.50 L326.65,293.50 L325.32,292.50 L323.82,291.50 L322.94,290.50 L322.61,289.50 L323.07,288.50 L324.11,287.50 L325.60,286.50 L326.85,285.50 L328.11,284.50 L329.57,283.50 L331.34,282.50 L333.22,281.50 L334.98,280.50 L336.40,279.50 L337.56,278.50 L338.64,277.50 L339.55,276.50 L340.20,275.50 L340.54,274.50 L340.80,273.50 L341.01,272.50 L341.15,271.50 L341.20,270.50 L341.16,269.50 L341.06,268.50 L340.92,267.50 L340.74,266.50 L340.44,265.50 L340.03,264.50 L339.52,263.50 L338.78,262.50 L337.98,261.50 L337.29,260.50 L336.62,259.50 L336.03,258.50 L335.59,257.50 L335.20,256.50 L334.94,255.50 L334.94,254.50 L335.20,253.50 L335.59,252.50 L336.02,251.50 L336.58,250.50 L337.25,249.50 L338.05,248.50 L339.12,247.50 L340.10,246.50 L340.82,245.50 L341.40,244.50Z" fill="#56B4E9" stroke="#333333" stroke-width="0.55" stroke-linejoin="round"/>
<line x1="341.6" y1="240.1" x2="341.6" y2="245.0" stroke="#2b2b2b" stroke-width="0.75"/>
<line x1="341.6" y1="303.5" x2="341.6" y2="306.7" stroke="#2b2b2b" stroke-width="0.75"/>
<rect x="339.55" y="280.2" width="4.3" height="9.80" fill="#ffffff" stroke="#333333" stroke-width="0.5"/>
<line x1="339.55" y1="289.3" x2="343.85" y2="289.3" stroke="#222" stroke-width="1.1"/>
<path d="M384.00,155.50 L384.15,156.50 L384.31,157.50 L384.47,158.50 L384.62,159.50 L384.78,160.50 L384.95,161.50 L385.12,162.50 L385.29,163.50 L385.45,164.50 L385.59,165.50 L385.71,166.50 L385.82,167.50 L385.92,168.50 L386.01,169.50 L386.09,170.50 L386.17,171.50 L386.23,172.50 L386.30,173.50 L386.36,174.50 L386.42,175.50 L386.46,176.50 L386.49,177.50 L386.50,178.50 L386.48,179.50 L386.45,180.50 L386.41,181.50 L386.35,182.50 L386.29,183.50 L386.23,184.50 L386.17,185.50 L386.10,186.50 L386.02,187.50 L385.93,188.50 L385.84,189.50 L385.75,190.50 L385.65,191.50 L385.55,192.50 L385.44,193.50 L385.33,194.50 L385.21,195.50 L385.09,196.50 L384.97,197.50 L384.85,198.50 L384.75,199.50 L384.64,200.50 L384.54,201.50 L384.43,202.50 L384.33,203.50 L384.23,204.50 L384.14,205.50 L384.05,206.40 L383.55,206.40 L383.46,205.50 L383.37,204.50 L383.27,203.50 L383.17,202.50 L383.06,201.50 L382.96,200.50 L382.85,199.50 L382.75,198.50 L382.63,197.50 L382.51,196.50 L382.39,195.50 L382.27,194.50 L382.16,193.50 L382.05,192.50 L381.95,191.50 L381.85,190.50 L381.76,189.50 L381.67,188.50 L381.58,187.50 L381.50,186.50 L381.43,185.50 L381.37,184.50 L381.31,183.50 L381.25,182.50 L381.19,181.50 L381.15,180.50 L381.12,179.50 L381.10,178.50 L381.11,177.50 L381.14,176.50 L381.18,175.50 L381.24,174.50 L381.30,173.50 L381.37,172.50 L381.43,171.50 L381.51,170.50 L381.59,169.50 L381.68,168.50 L381.78,167.50 L381.89,166.50 L382.01,165.50 L382.15,164.50 L382.31,163.50 L382.48,162.50 L382.65,161.50 L382.82,160.50 L382.98,159.50 L383.13,158.50 L383.29,157.50 L383.45,156.50 L383.60,155.50Z" fill="#009E73" stroke="#333333" stroke-width="0.55" stroke-linejoin="round"/>
<line x1="383.8" y1="141.1" x2="383.8" y2="156.0" stroke="#2b2b2b" stroke-width="0.75"/>
<line x1="383.8" y1="206" x2="383.8" y2="238" stroke="#333" stroke-width="0.65"/>
<path d="M383.95,237.50 L384.08,238.50 L384.26,239.50 L384.48,240.50 L384.74,241.50 L385.08,242.50 L385.48,243.50 L385.91,244.50 L386.32,245.50 L386.68,246.50 L387.03,247.50 L387.37,248.50 L387.70,249.50 L388.01,250.50 L388.30,251.50 L388.57,252.50 L388.83,253.50 L389.08,254.50 L389.31,255.50 L389.53,256.50 L389.74,257.50 L389.95,258.50 L390.15,259.50 L390.34,260.50 L390.51,261.50 L390.65,262.50 L390.75,263.50 L390.84,264.50 L390.92,265.50 L390.99,266.50 L391.04,267.50 L391.05,268.50 L391.01,269.50 L390.90,270.50 L390.75,271.50 L390.57,272.50 L390.39,273.50 L390.21,274.50 L389.98,275.50 L389.73,276.50 L389.45,277.50 L389.17,278.50 L388.90,279.50 L388.63,280.50 L388.35,281.50 L388.07,282.50 L387.79,283.50 L387.53,284.50 L387.28,285.50 L387.04,286.50 L386.81,287.50 L386.59,288.50 L386.37,289.50 L386.15,290.50 L385.92,291.50 L385.68,292.50 L385.44,293.50 L385.22,294.50 L385.00,295.50 L384.80,296.50 L384.61,297.50 L384.43,298.50 L384.26,299.50 L384.10,300.50 L383.94,301.50 L383.90,301.80 L383.50,301.80 L383.46,301.50 L383.30,300.50 L383.14,299.50 L382.97,298.50 L382.79,297.50 L382.60,296.50 L382.40,295.50 L382.18,294.50 L381.96,293.50 L381.72,292.50 L381.48,291.50 L381.25,290.50 L381.03,289.50 L380.81,288.50 L380.59,287.50 L380.36,286.50 L380.12,285.50 L379.87,284.50 L379.61,283.50 L379.33,282.50 L379.05,281.50 L378.77,280.50 L378.50,279.50 L378.23,278.50 L377.95,277.50 L377.67,276.50 L377.42,275.50 L377.19,274.50 L377.01,273.50 L376.83,272.50 L376.65,271.50 L376.50,270.50 L376.39,269.50 L376.35,268.50 L376.36,267.50 L376.41,266.50 L376.48,265.50 L376.56,264.50 L376.65,263.50 L376.75,262.50 L376.89,261.50 L377.06,260.50 L377.25,259.50 L377.45,258.50 L377.66,257.50 L377.87,256.50 L378.09,255.50 L378.32,254.50 L378.57,253.50 L378.83,252.50 L379.10,251.50 L379.39,250.50 L379.70,249.50 L380.03,248.50 L380.37,247.50 L380.72,246.50 L381.08,245.50 L381.49,244.50 L381.92,243.50 L382.32,242.50 L382.66,241.50 L382.92,240.50 L383.14,239.50 L383.32,238.50 L383.45,237.50Z" fill="#009E73" stroke="#333333" stroke-width="0.55" stroke-linejoin="round"/>
<line x1="383.7" y1="301.3" x2="383.7" y2="311.8" stroke="#2b2b2b" stroke-width="0.75"/>
<line x1="383.8" y1="238.5" x2="383.8" y2="245" stroke="#ffffff" stroke-width="0.8"/>
<rect x="381.80" y="245" width="4.2" height="25.80" fill="#ffffff" stroke="#333333" stroke-width="0.5"/>
<line x1="381.80" y1="268.2" x2="386.00" y2="268.2" stroke="#222" stroke-width="1.1"/>
<line x1="425.3" y1="92.9" x2="425.3" y2="180.5" stroke="#444" stroke-width="0.65"/>
<rect x="424.15000000000003" y="108" width="2.3" height="27" rx="1.0" fill="#D55E00" stroke="#7a4a2a" stroke-width="0.4"/>
<path d="M425.55,180.10 L425.75,181.10 L425.98,182.10 L426.24,183.10 L426.53,184.10 L426.88,185.10 L427.28,186.10 L427.70,187.10 L428.11,188.10 L428.47,189.10 L428.78,190.10 L429.08,191.10 L429.36,192.10 L429.63,193.10 L429.88,194.10 L430.13,195.10 L430.37,196.10 L430.59,197.10 L430.80,198.10 L431.01,199.10 L431.22,200.10 L431.40,201.10 L431.57,202.10 L431.71,203.10 L431.84,204.10 L431.96,205.10 L432.07,206.10 L432.15,207.10 L432.20,208.10 L432.24,209.10 L432.27,210.10 L432.29,211.10 L432.30,212.10 L432.24,213.10 L432.11,214.10 L431.95,215.10 L431.78,216.10 L431.61,217.10 L431.40,218.10 L431.18,219.10 L430.94,220.10 L430.67,221.10 L430.40,222.10 L430.12,223.10 L429.85,224.10 L429.60,225.10 L429.38,226.10 L429.17,227.10 L428.97,228.10 L428.78,229.10 L428.60,230.10 L428.44,231.10 L428.30,232.10 L428.19,233.10 L428.09,234.10 L427.99,235.10 L427.90,236.10 L427.82,237.10 L427.76,238.10 L427.71,239.10 L427.70,240.10 L427.72,241.10 L427.77,242.10 L427.84,243.10 L427.91,244.10 L428.02,245.10 L428.14,246.10 L428.20,247.10 L428.17,248.10 L428.08,249.10 L427.99,250.10 L427.88,251.10 L427.74,252.10 L427.59,253.10 L427.42,254.10 L427.23,255.10 L427.04,256.10 L426.84,257.10 L426.64,258.10 L426.45,259.10 L426.27,260.10 L426.09,261.10 L425.92,262.10 L425.79,263.10 L425.68,264.10 L425.59,265.10 L425.52,266.10 L425.50,266.40 L425.10,266.40 L425.08,266.10 L425.01,265.10 L424.92,264.10 L424.81,263.10 L424.68,262.10 L424.51,261.10 L424.33,260.10 L424.15,259.10 L423.96,258.10 L423.76,257.10 L423.56,256.10 L423.37,255.10 L423.18,254.10 L423.01,253.10 L422.86,252.10 L422.72,251.10 L422.61,250.10 L422.52,249.10 L422.43,248.10 L422.40,247.10 L422.46,246.10 L422.58,245.10 L422.69,244.10 L422.76,243.10 L422.83,242.10 L422.88,241.10 L422.90,240.10 L422.89,239.10 L422.84,238.10 L422.78,237.10 L422.70,236.10 L422.61,235.10 L422.51,234.10 L422.41,233.10 L422.30,232.10 L422.16,231.10 L422.00,230.10 L421.82,229.10 L421.63,228.10 L421.43,227.10 L421.22,226.10 L421.00,225.10 L420.75,224.10 L420.48,223.10 L420.20,222.10 L419.93,221.10 L419.66,220.10 L419.42,219.10 L419.20,218.10 L418.99,217.10 L418.82,216.10 L418.65,215.10 L418.49,214.10 L418.36,213.10 L418.30,212.10 L418.31,211.10 L418.33,210.10 L418.36,209.10 L418.40,208.10 L418.45,207.10 L418.53,206.10 L418.64,205.10 L418.76,204.10 L418.89,203.10 L419.03,202.10 L419.20,201.10 L419.38,200.10 L419.59,199.10 L419.80,198.10 L420.01,197.10 L420.23,196.10 L420.47,195.10 L420.72,194.10 L420.97,193.10 L421.24,192.10 L421.52,191.10 L421.82,190.10 L422.13,189.10 L422.49,188.10 L422.90,187.10 L423.32,186.10 L423.72,185.10 L424.07,184.10 L424.36,183.10 L424.62,182.10 L424.85,181.10 L425.05,180.10Z" fill="#D55E00" stroke="#333333" stroke-width="0.55" stroke-linejoin="round"/>
<line x1="425.3" y1="265.9" x2="425.3" y2="279.5" stroke="#2b2b2b" stroke-width="0.75"/>
<rect x="423.35" y="202.9" width="4.1" height="22.30" fill="#ffffff" stroke="#333333" stroke-width="0.5"/>
<line x1="423.35" y1="210.8" x2="427.45" y2="210.8" stroke="#222" stroke-width="1.1"/>
<path d="M341.4,64.9 V62.7 H425.4 V64.9" fill="none" stroke="#151515" stroke-width="0.7"/><text x="383.4" y="59.7" font-size="9.8" text-anchor="middle" fill="#0a0a0a" stroke="#0a0a0a" stroke-width="0.18" font-weight="normal" style="font-family:&quot;Liberation Sans&quot;,sans-serif" xml:space="preserve">0.002</text>
<path d="M383.5,89.7 V87.5 H425.4 V89.7" fill="none" stroke="#151515" stroke-width="0.7"/><text x="404.45" y="84.5" font-size="9.8" text-anchor="middle" fill="#0a0a0a" stroke="#0a0a0a" stroke-width="0.18" font-weight="normal" style="font-family:&quot;Liberation Sans&quot;,sans-serif" xml:space="preserve">0.14</text>
<path d="M341.4,115.3 V113.1 H383.6 V115.3" fill="none" stroke="#151515" stroke-width="0.7"/><text x="362.5" y="110.1" font-size="9.8" text-anchor="middle" fill="#0a0a0a" stroke="#0a0a0a" stroke-width="0.18" font-weight="normal" style="font-family:&quot;Liberation Sans&quot;,sans-serif" xml:space="preserve">0.2</text>
<text transform="translate(382.3,321.6) scale(0.974,1)" x="0" y="0" font-size="9.55" text-anchor="middle" fill="#1a1a1a" font-weight="normal" style="font-family:&quot;Liberation Sans&quot;,sans-serif" xml:space="preserve">Kruskal-Wallis,  p=0.010</text>
<text x="387.5" y="350.5" font-size="14" text-anchor="middle" fill="#000" stroke="#000" stroke-width="0.3" font-weight="normal" style="font-family:&quot;Liberation Serif&quot;,serif" xml:space="preserve">(c)</text>
<path d="M484.40,154.30 L484.56,155.30 L484.71,156.30 L484.87,157.30 L485.03,158.30 L485.18,159.30 L485.34,160.30 L485.50,161.30 L485.66,162.30 L485.81,163.30 L485.96,164.30 L486.11,165.30 L486.27,166.30 L486.43,167.30 L486.59,168.30 L486.77,169.30 L486.96,170.30 L487.16,171.30 L487.38,172.30 L487.61,173.30 L487.85,174.30 L488.10,175.30 L488.35,176.30 L488.60,177.30 L488.85,178.30 L489.10,179.30 L489.35,180.30 L489.61,181.30 L489.87,182.30 L490.13,183.30 L490.38,184.30 L490.64,185.30 L490.89,186.30 L491.13,187.30 L491.36,188.30 L491.60,189.30 L491.84,190.30 L492.08,191.30 L492.30,192.30 L492.50,193.30 L492.69,194.30 L492.84,195.30 L492.99,196.30 L493.13,197.30 L493.26,198.30 L493.38,199.30 L493.49,200.30 L493.59,201.30 L493.68,202.30 L493.76,203.30 L493.83,204.30 L493.90,205.30 L493.96,206.30 L494.01,207.30 L494.06,208.30 L494.11,209.30 L494.15,210.30 L494.18,211.30 L494.21,212.30 L494.23,213.30 L494.25,214.30 L494.28,215.30 L494.30,216.30 L494.31,217.30 L494.33,218.30 L494.34,219.30 L494.35,220.30 L494.35,221.30 L494.35,222.30 L494.35,223.30 L494.34,224.30 L494.33,225.30 L494.33,226.30 L494.31,227.30 L494.30,228.30 L494.29,229.30 L494.27,230.30 L494.26,231.30 L494.24,232.30 L494.22,233.30 L494.20,234.30 L494.18,235.30 L494.16,236.30 L494.14,237.30 L494.11,238.30 L494.09,239.30 L494.06,240.30 L494.02,241.30 L493.98,242.30 L493.92,243.30 L493.87,244.30 L493.81,245.30 L493.74,246.30 L493.67,247.30 L493.60,248.30 L493.53,249.30 L493.45,250.30 L493.38,251.30 L493.30,252.30 L493.21,253.30 L493.12,254.30 L493.01,255.30 L492.89,256.30 L492.75,257.30 L492.57,258.30 L492.33,259.30 L492.07,260.30 L491.79,261.30 L491.50,262.30 L491.23,263.30 L490.97,264.30 L490.72,265.30 L490.46,266.30 L490.21,267.30 L489.95,268.30 L489.69,269.30 L489.44,270.30 L489.19,271.30 L488.95,272.30 L488.71,273.30 L488.47,274.30 L488.22,275.30 L487.99,276.30 L487.75,277.30 L487.52,278.30 L487.30,279.30 L487.10,280.30 L486.90,281.30 L486.71,282.30 L486.53,283.30 L486.35,284.30 L486.18,285.30 L486.02,286.30 L485.87,287.30 L485.72,288.30 L485.59,289.30 L485.46,290.30 L485.35,291.30 L485.25,292.30 L485.15,293.30 L485.06,294.30 L484.98,295.30 L484.90,296.30 L484.83,297.30 L484.76,298.30 L484.70,299.30 L484.63,300.30 L484.57,301.30 L484.50,302.30 L484.44,303.30 L484.40,304.00 L484.00,304.00 L483.96,303.30 L483.90,302.30 L483.83,301.30 L483.77,300.30 L483.70,299.30 L483.64,298.30 L483.57,297.30 L483.50,296.30 L483.42,295.30 L483.34,294.30 L483.25,293.30 L483.15,292.30 L483.05,291.30 L482.94,290.30 L482.81,289.30 L482.68,288.30 L482.53,287.30 L482.38,286.30 L482.22,285.30 L482.05,284.30 L481.87,283.30 L481.69,282.30 L481.50,281.30 L481.30,280.30 L481.10,279.30 L480.88,278.30 L480.65,277.30 L480.41,276.30 L480.18,275.30 L479.93,274.30 L479.69,273.30 L479.45,272.30 L479.21,271.30 L478.96,270.30 L478.71,269.30 L478.45,268.30 L478.19,267.30 L477.94,266.30 L477.68,265.30 L477.43,264.30 L477.17,263.30 L476.90,262.30 L476.61,261.30 L476.33,260.30 L476.07,259.30 L475.83,258.30 L475.65,257.30 L475.51,256.30 L475.39,255.30 L475.28,254.30 L475.19,253.30 L475.10,252.30 L475.02,251.30 L474.95,250.30 L474.87,249.30 L474.80,248.30 L474.73,247.30 L474.66,246.30 L474.59,245.30 L474.53,244.30 L474.48,243.30 L474.42,242.30 L474.38,241.30 L474.34,240.30 L474.31,239.30 L474.29,238.30 L474.26,237.30 L474.24,236.30 L474.22,235.30 L474.20,234.30 L474.18,233.30 L474.16,232.30 L474.14,231.30 L474.13,230.30 L474.11,229.30 L474.10,228.30 L474.09,227.30 L474.07,226.30 L474.07,225.30 L474.06,224.30 L474.05,223.30 L474.05,222.30 L474.05,221.30 L474.05,220.30 L474.06,219.30 L474.07,218.30 L474.09,217.30 L474.10,216.30 L474.12,215.30 L474.15,214.30 L474.17,213.30 L474.19,212.30 L474.22,211.30 L474.25,210.30 L474.29,209.30 L474.34,208.30 L474.39,207.30 L474.44,206.30 L474.50,205.30 L474.57,204.30 L474.64,203.30 L474.72,202.30 L474.81,201.30 L474.91,200.30 L475.02,199.30 L475.14,198.30 L475.27,197.30 L475.41,196.30 L475.56,195.30 L475.71,194.30 L475.90,193.30 L476.10,192.30 L476.32,191.30 L476.56,190.30 L476.80,189.30 L477.04,188.30 L477.27,187.30 L477.51,186.30 L477.76,185.30 L478.02,184.30 L478.27,183.30 L478.53,182.30 L478.79,181.30 L479.05,180.30 L479.30,179.30 L479.55,178.30 L479.80,177.30 L480.05,176.30 L480.30,175.30 L480.55,174.30 L480.79,173.30 L481.02,172.30 L481.24,171.30 L481.44,170.30 L481.63,169.30 L481.81,168.30 L481.97,167.30 L482.13,166.30 L482.29,165.30 L482.44,164.30 L482.59,163.30 L482.74,162.30 L482.90,161.30 L483.06,160.30 L483.22,159.30 L483.37,158.30 L483.53,157.30 L483.69,156.30 L483.84,155.30 L484.00,154.30Z" fill="#56B4E9" stroke="#333333" stroke-width="0.55" stroke-linejoin="round"/>
<line x1="484.2" y1="142.4" x2="484.2" y2="154.8" stroke="#2b2b2b" stroke-width="0.75"/>
<line x1="484.2" y1="303.5" x2="484.2" y2="312" stroke="#2b2b2b" stroke-width="0.75"/>
<rect x="482.00" y="208.7" width="4.6" height="37.90" fill="#ffffff" stroke="#333333" stroke-width="0.5"/>
<line x1="482.00" y1="227.5" x2="486.60" y2="227.5" stroke="#222" stroke-width="1.1"/>
<path d="M526.20,140.00 L526.37,141.00 L526.62,142.00 L526.94,143.00 L527.30,144.00 L527.70,145.00 L528.19,146.00 L528.80,147.00 L529.47,148.00 L530.15,149.00 L530.92,150.00 L531.70,151.00 L532.41,152.00 L533.01,153.00 L533.56,154.00 L534.07,155.00 L534.52,156.00 L534.90,157.00 L535.26,158.00 L535.61,159.00 L535.90,160.00 L536.08,161.00 L536.08,162.00 L535.97,163.00 L535.79,164.00 L535.59,165.00 L535.40,166.00 L535.20,167.00 L534.97,168.00 L534.76,169.00 L534.63,170.00 L534.62,171.00 L534.77,172.00 L535.05,173.00 L535.41,174.00 L535.80,175.00 L536.32,176.00 L537.02,177.00 L537.79,178.00 L538.50,179.00 L539.14,180.00 L539.78,181.00 L540.40,182.00 L541.01,183.00 L541.60,184.00 L542.22,185.00 L542.84,186.00 L543.40,187.00 L543.80,188.00 L544.09,189.00 L544.36,190.00 L544.60,191.00 L544.79,192.00 L544.93,193.00 L545.00,194.00 L544.95,195.00 L544.75,196.00 L544.42,197.00 L544.02,198.00 L543.60,199.00 L543.20,200.00 L542.83,201.00 L542.44,202.00 L542.04,203.00 L541.62,204.00 L541.17,205.00 L540.70,206.00 L540.21,207.00 L539.68,208.00 L539.10,209.00 L538.43,210.00 L537.68,211.00 L536.92,212.00 L536.20,213.00 L535.51,214.00 L534.83,215.00 L534.16,216.00 L533.51,217.00 L532.89,218.00 L532.30,219.00 L531.73,220.00 L531.20,221.00 L530.75,222.00 L530.30,223.00 L529.79,224.00 L529.26,225.00 L528.75,226.00 L528.25,227.00 L527.86,228.00 L527.56,229.00 L527.30,230.00 L527.07,231.00 L526.88,232.00 L526.73,233.00 L526.61,234.00 L526.50,235.00 L526.39,236.00 L526.30,237.00 L526.25,237.50 L525.75,237.50 L525.70,237.00 L525.61,236.00 L525.50,235.00 L525.39,234.00 L525.27,233.00 L525.12,232.00 L524.93,231.00 L524.70,230.00 L524.44,229.00 L524.14,228.00 L523.75,227.00 L523.25,226.00 L522.74,225.00 L522.21,224.00 L521.70,223.00 L521.25,222.00 L520.80,221.00 L520.27,220.00 L519.70,219.00 L519.11,218.00 L518.49,217.00 L517.84,216.00 L517.17,215.00 L516.49,214.00 L515.80,213.00 L515.08,212.00 L514.32,211.00 L513.57,210.00 L512.90,209.00 L512.32,208.00 L511.79,207.00 L511.30,206.00 L510.83,205.00 L510.38,204.00 L509.96,203.00 L509.56,202.00 L509.17,201.00 L508.80,200.00 L508.40,199.00 L507.98,198.00 L507.58,197.00 L507.25,196.00 L507.05,195.00 L507.00,194.00 L507.07,193.00 L507.21,192.00 L507.40,191.00 L507.64,190.00 L507.91,189.00 L508.20,188.00 L508.60,187.00 L509.16,186.00 L509.78,185.00 L510.40,184.00 L510.99,183.00 L511.60,182.00 L512.22,181.00 L512.86,180.00 L513.50,179.00 L514.21,178.00 L514.98,177.00 L515.68,176.00 L516.20,175.00 L516.59,174.00 L516.95,173.00 L517.23,172.00 L517.38,171.00 L517.37,170.00 L517.24,169.00 L517.03,168.00 L516.80,167.00 L516.60,166.00 L516.41,165.00 L516.21,164.00 L516.03,163.00 L515.92,162.00 L515.92,161.00 L516.10,160.00 L516.39,159.00 L516.74,158.00 L517.10,157.00 L517.48,156.00 L517.93,155.00 L518.44,154.00 L518.99,153.00 L519.59,152.00 L520.30,151.00 L521.08,150.00 L521.85,149.00 L522.53,148.00 L523.20,147.00 L523.81,146.00 L524.30,145.00 L524.70,144.00 L525.06,143.00 L525.38,142.00 L525.63,141.00 L525.80,140.00Z" fill="#009E73" stroke="#333333" stroke-width="0.55" stroke-linejoin="round"/>
<line x1="526" y1="136" x2="526" y2="140.5" stroke="#2b2b2b" stroke-width="0.75"/>
<line x1="526" y1="237.0" x2="526" y2="240.6" stroke="#2b2b2b" stroke-width="0.75"/>
<rect x="524.00" y="182.7" width="4.2" height="18.30" fill="#ffffff" stroke="#333333" stroke-width="0.5"/>
<line x1="524.00" y1="192.4" x2="528.20" y2="192.4" stroke="#222" stroke-width="1.1"/>
<path d="M567.70,105.20 L567.90,106.20 L568.10,107.20 L568.32,108.20 L568.55,109.20 L568.78,110.20 L569.03,111.20 L569.29,112.20 L569.55,113.20 L569.82,114.20 L570.08,115.20 L570.36,116.20 L570.65,117.20 L570.97,118.20 L571.32,119.20 L571.70,120.20 L572.09,121.20 L572.49,122.20 L572.88,123.20 L573.25,124.20 L573.62,125.20 L574.00,126.20 L574.37,127.20 L574.74,128.20 L575.11,129.20 L575.49,130.20 L575.86,131.20 L576.22,132.20 L576.57,133.20 L576.89,134.20 L577.21,135.20 L577.51,136.20 L577.81,137.20 L578.10,138.20 L578.39,139.20 L578.68,140.20 L578.96,141.20 L579.22,142.20 L579.44,143.20 L579.64,144.20 L579.83,145.20 L580.01,146.20 L580.16,147.20 L580.30,148.20 L580.43,149.20 L580.55,150.20 L580.65,151.20 L580.74,152.20 L580.81,153.20 L580.88,154.20 L580.94,155.20 L580.98,156.20 L581.00,157.20 L580.98,158.20 L580.94,159.20 L580.86,160.20 L580.77,161.20 L580.68,162.20 L580.58,163.20 L580.47,164.20 L580.35,165.20 L580.22,166.20 L580.06,167.20 L579.90,168.20 L579.72,169.20 L579.53,170.20 L579.32,171.20 L579.09,172.20 L578.81,173.20 L578.50,174.20 L578.17,175.20 L577.83,176.20 L577.44,177.20 L577.03,178.20 L576.61,179.20 L576.23,180.20 L575.86,181.20 L575.51,182.20 L575.18,183.20 L574.88,184.20 L574.61,185.20 L574.33,186.20 L574.08,187.20 L573.89,188.20 L573.79,189.20 L573.73,190.20 L573.69,191.20 L573.66,192.20 L573.63,193.20 L573.60,194.20 L573.58,195.20 L573.55,196.20 L573.52,197.20 L573.48,198.20 L573.43,199.20 L573.39,200.20 L573.35,201.20 L573.31,202.20 L573.26,203.20 L573.21,204.20 L573.15,205.20 L573.09,206.20 L573.02,207.20 L572.95,208.20 L572.86,209.20 L572.74,210.20 L572.59,211.20 L572.41,212.20 L572.21,213.20 L572.00,214.20 L571.79,215.20 L571.57,216.20 L571.36,217.20 L571.16,218.20 L570.95,219.20 L570.73,220.20 L570.51,221.20 L570.29,222.20 L570.06,223.20 L569.84,224.20 L569.63,225.20 L569.42,226.20 L569.21,227.20 L569.01,228.20 L568.80,229.20 L568.61,230.20 L568.43,231.20 L568.27,232.20 L568.13,233.20 L567.99,234.20 L567.87,235.20 L567.76,236.20 L567.70,236.80 L567.30,236.80 L567.24,236.20 L567.13,235.20 L567.01,234.20 L566.87,233.20 L566.73,232.20 L566.57,231.20 L566.39,230.20 L566.20,229.20 L565.99,228.20 L565.79,227.20 L565.58,226.20 L565.37,225.20 L565.16,224.20 L564.94,223.20 L564.71,222.20 L564.49,221.20 L564.27,220.20 L564.05,219.20 L563.84,218.20 L563.64,217.20 L563.43,216.20 L563.21,215.20 L563.00,214.20 L562.79,213.20 L562.59,212.20 L562.41,211.20 L562.26,210.20 L562.14,209.20 L562.05,208.20 L561.98,207.20 L561.91,206.20 L561.85,205.20 L561.79,204.20 L561.74,203.20 L561.69,202.20 L561.65,201.20 L561.61,200.20 L561.57,199.20 L561.52,198.20 L561.48,197.20 L561.45,196.20 L561.42,195.20 L561.40,194.20 L561.37,193.20 L561.34,192.20 L561.31,191.20 L561.27,190.20 L561.21,189.20 L561.11,188.20 L560.92,187.20 L560.67,186.20 L560.39,185.20 L560.12,184.20 L559.82,183.20 L559.49,182.20 L559.14,181.20 L558.77,180.20 L558.39,179.20 L557.97,178.20 L557.56,177.20 L557.17,176.20 L556.83,175.20 L556.50,174.20 L556.19,173.20 L555.91,172.20 L555.68,171.20 L555.47,170.20 L555.28,169.20 L555.10,168.20 L554.94,167.20 L554.78,166.20 L554.65,165.20 L554.53,164.20 L554.42,163.20 L554.32,162.20 L554.23,161.20 L554.14,160.20 L554.06,159.20 L554.02,158.20 L554.00,157.20 L554.02,156.20 L554.06,155.20 L554.12,154.20 L554.19,153.20 L554.26,152.20 L554.35,151.20 L554.45,150.20 L554.57,149.20 L554.70,148.20 L554.84,147.20 L554.99,146.20 L555.17,145.20 L555.36,144.20 L555.56,143.20 L555.78,142.20 L556.04,141.20 L556.32,140.20 L556.61,139.20 L556.90,138.20 L557.19,137.20 L557.49,136.20 L557.79,135.20 L558.11,134.20 L558.43,133.20 L558.78,132.20 L559.14,131.20 L559.51,130.20 L559.89,129.20 L560.26,128.20 L560.63,127.20 L561.00,126.20 L561.38,125.20 L561.75,124.20 L562.12,123.20 L562.51,122.20 L562.91,121.20 L563.30,120.20 L563.68,119.20 L564.03,118.20 L564.35,117.20 L564.64,116.20 L564.92,115.20 L565.18,114.20 L565.45,113.20 L565.71,112.20 L565.97,111.20 L566.22,110.20 L566.45,109.20 L566.68,108.20 L566.90,107.20 L567.10,106.20 L567.30,105.20Z" fill="#D55E00" stroke="#333333" stroke-width="0.55" stroke-linejoin="round"/>
<line x1="567.5" y1="91" x2="567.5" y2="105.7" stroke="#2b2b2b" stroke-width="0.75"/>
<line x1="567.5" y1="236.3" x2="567.5" y2="248.2" stroke="#2b2b2b" stroke-width="0.75"/>
<rect x="565.70" y="150.3" width="4.2" height="29.70" fill="#ffffff" stroke="#333333" stroke-width="0.5"/>
<line x1="565.70" y1="165.7" x2="569.90" y2="165.7" stroke="#222" stroke-width="1.1"/>
<path d="M484.5,64.9 V62.7 H567.5 V64.9" fill="none" stroke="#151515" stroke-width="0.7"/><text x="526.0" y="59.7" font-size="9.8" text-anchor="middle" fill="#0a0a0a" stroke="#0a0a0a" stroke-width="0.18" font-weight="normal" style="font-family:&quot;Liberation Sans&quot;,sans-serif" xml:space="preserve">0.0033</text>
<path d="M525.5,82.7 V80.5 H567.5 V82.7" fill="none" stroke="#151515" stroke-width="0.7"/><text x="546.5" y="77.1" font-size="9.8" text-anchor="middle" fill="#0a0a0a" stroke="#0a0a0a" stroke-width="0.18" font-weight="normal" style="font-family:&quot;Liberation Sans&quot;,sans-serif" xml:space="preserve">0.3169</text>
<path d="M484.3,100.3 V98.1 H526.25 V100.3" fill="none" stroke="#151515" stroke-width="0.7"/><text x="504.5" y="95.1" font-size="9.8" text-anchor="middle" fill="#0a0a0a" stroke="#0a0a0a" stroke-width="0.18" font-weight="normal" style="font-family:&quot;Liberation Sans&quot;,sans-serif" xml:space="preserve">0.131</text>
<text transform="translate(525.1,321.6) scale(0.974,1)" x="0" y="0" font-size="9.55" text-anchor="middle" fill="#1a1a1a" font-weight="normal" style="font-family:&quot;Liberation Sans&quot;,sans-serif" xml:space="preserve">One-way ANOVA,  p=0.004</text>
<text x="531.7" y="350.5" font-size="14" text-anchor="middle" fill="#000" stroke="#000" stroke-width="0.3" font-weight="normal" style="font-family:&quot;Liberation Serif&quot;,serif" xml:space="preserve">(d)</text>
<text x="607.8" y="152.6" font-size="9.6" text-anchor="start" fill="#111" font-weight="normal" style="font-family:&quot;Liberation Sans&quot;,sans-serif" xml:space="preserve">ICAPmode</text>
<rect x="607.9" y="158.70" width="15.6" height="15.3" fill="#56B4E9" stroke="#333" stroke-width="0.6"/>
<text x="629.0" y="169.7" font-size="8.3" text-anchor="start" fill="#111" font-weight="normal" style="font-family:&quot;Liberation Sans&quot;,sans-serif" xml:space="preserve">Active</text>
<rect x="607.9" y="175.05" width="15.6" height="15.3" fill="#009E73" stroke="#333" stroke-width="0.6"/>
<text x="629.0" y="186.04999999999998" font-size="8.3" text-anchor="start" fill="#111" font-weight="normal" style="font-family:&quot;Liberation Sans&quot;,sans-serif" xml:space="preserve">Constructive</text>
<rect x="607.9" y="191.40" width="15.6" height="15.3" fill="#D55E00" stroke="#333" stroke-width="0.6"/>
<text x="629.0" y="202.39999999999998" font-size="8.3" text-anchor="start" fill="#111" font-weight="normal" style="font-family:&quot;Liberation Sans&quot;,sans-serif" xml:space="preserve">Interactive</text>
</svg>
</body></html>
